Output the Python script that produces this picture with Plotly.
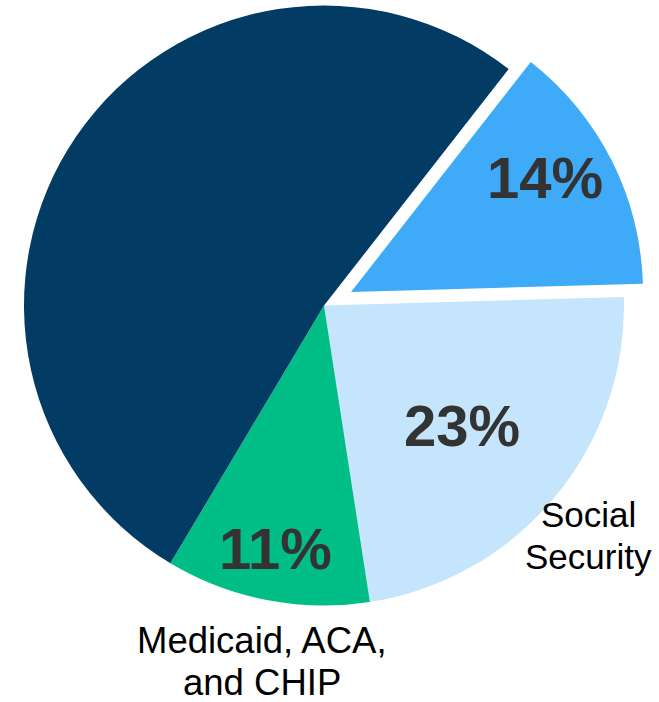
import math
import plotly.graph_objects as go

# Budget shares (percent of total)
categories = ["Other spending", "Medicare", "Social Security", "Medicaid, ACA, and CHIP"]
shares = [52, 14, 23, 11]

# Reorder so the pie runs clockwise from the Medicare slice
order = [1, 2, 3, 0]
labels = [categories[i] for i in order]
values = [shares[i] for i in order]

slice_colors = {
    "Other spending": "#023B63",
    "Medicare": "#3FAAF8",
    "Social Security": "#C4E5FC",
    "Medicaid, ACA, and CHIP": "#00BE86",
}
pulled = "Medicare"
unlabeled = "Other spending"

outer_labels = {
    "Social Security": ["Social", "Security"],
    "Medicaid, ACA, and CHIP": ["Medicaid, ACA,", "and CHIP"],
}

W, H = 659, 702
ROTATION = 38
CLEAR = "rgba(0,0,0,0)"

# Pie geometry in pixels: body centre/radius and exploded-slice centre/radius
BODY = (324, 305.5, 300)
EXPLODED = (351, 292, 292)

# Where each percentage sits inside its slice:
# (fraction across the slice's angular span, fraction of the radius)
pct_place = {
    "Medicare": (0.425, 0.75),
    "Social Security": (0.516, 0.61),
    "Medicaid, ACA, and CHIP": (0.51, 0.825),
}


def domain_px(cx, cy, r):
    """Paper-domain for a pie of radius r centred at pixel (cx, cy)."""
    return dict(
        x=[(cx - r) / W, (cx + r) / W],
        y=[max(0.0, 1 - (cy + r) / H), min(1.0, 1 - (cy - r) / H)],
    )


common = dict(
    labels=labels,
    values=values,
    sort=False,
    direction="clockwise",
    rotation=ROTATION,
    textinfo="none",
    hoverinfo="label+percent",
    showlegend=False,
)

# Body of the pie (pulled slice left empty)
base = go.Pie(
    domain=domain_px(*BODY),
    marker=dict(colors=[CLEAR if l == pulled else slice_colors[l] for l in labels],
                line=dict(width=0)),
    **common,
)

# Exploded slice, drawn on its own offset centre
exploded = go.Pie(
    domain=domain_px(*EXPLODED),
    marker=dict(colors=[slice_colors[l] if l == pulled else CLEAR for l in labels],
                line=dict(width=0)),
    **common,
)

fig = go.Figure([base, exploded])

# Percentage labels, placed along each slice from its share of the circle
pct_font = dict(family="Arial, Liberation Sans, sans-serif", size=58,
                color="#333333", weight="bold")
total = sum(values)
start = ROTATION
for lab, val in zip(labels, values):
    span = 360 * val / total
    if lab in pct_place:
        t, f = pct_place[lab]
        cx, cy, _ = EXPLODED if lab == pulled else BODY
        ang = math.radians(start + t * span)
        rr = f * BODY[2]
        px = cx + rr * math.sin(ang)
        py = cy - rr * math.cos(ang)
        fig.add_annotation(
            x=px / W, y=1 - py / H, xref="paper", yref="paper",
            text=f"{val:.0f}%", showarrow=False,
            xanchor="center", yanchor="middle", font=pct_font,
        )
    start += span

# Category names outside the pie
label_sizes = {"Social Security": 35, "Medicaid, ACA, and CHIP": 36.5}
anchors = {
    "Social Security": (588, [514, 556]),
    "Medicaid, ACA, and CHIP": (262, [640, 682]),
}
for name, lines in outer_labels.items():
    x, ys = anchors[name]
    for line, y in zip(lines, ys):
        fig.add_annotation(
            x=x / W, y=1 - y / H, xref="paper", yref="paper",
            text=line, showarrow=False, xanchor="center", yanchor="middle",
            font=dict(family="Arial, Liberation Sans, sans-serif",
                      size=label_sizes[name], color="#000000"),
        )

fig.update_layout(
    width=W, height=H,
    margin=dict(l=0, r=0, t=0, b=0),
    paper_bgcolor="white",
    plot_bgcolor="white",
)

fig.write_html("out.html")
